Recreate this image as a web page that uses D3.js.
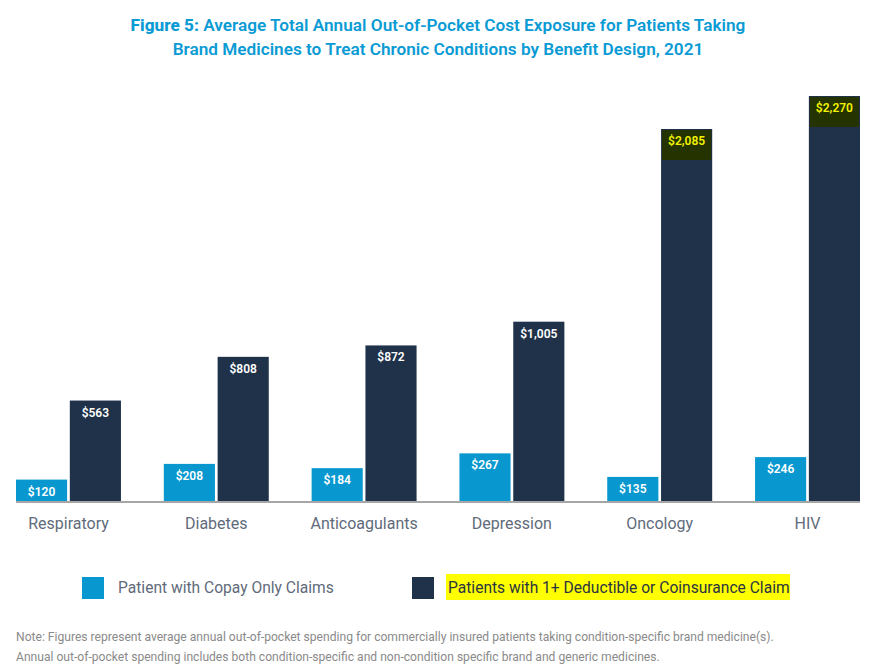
<!DOCTYPE html>
<html>
<head>
<meta charset="utf-8">
<script src="https://cdn.jsdelivr.net/npm/d3@7"></script>
<style>
  body { margin: 0; background: #fff; font-family: "Roboto", "Open Sans", sans-serif; }
</style>
</head>
<body>
<div id="chart"></div>
<script>
// chart data
var categories = ["Respiratory", "Diabetes", "Anticoagulants", "Depression", "Oncology", "HIV"];
var copayOnly = [120, 208, 184, 267, 135, 246];
var deductible = [563, 808, 872, 1005, 2085, 2270];
var seriesNames = ["Patient with Copay Only Claims", "Patients with 1+ Deductible or Coinsurance Claim"];
var highlighted = ["Oncology", "HIV"];

var width = 886, height = 668;
var lightBlue = "#0898cf", navy = "#1f3249";

var svg = d3.select("#chart")
  .append("svg")
  .attr("width", width)
  .attr("height", height);

// title
var title = svg.append("text")
  .attr("x", 438)
  .attr("text-anchor", "middle")
  .style("fill", "#0a9bd5")
  .style("font-size", "17.2px")
  .style("font-weight", "600");
var t1 = title.append("tspan").attr("x", 438).attr("y", 31);
t1.append("tspan").style("font-weight", "800").text("Figure 5: ");
t1.append("tspan").text("Average Total Annual Out-of-Pocket Cost Exposure for Patients Taking");
title.append("tspan").attr("x", 438).attr("y", 55)
  .text("Brand Medicines to Treat Chronic Conditions by Benefit Design, 2021");

// scales
var baseY = 501;
var x0 = d3.scaleBand()
  .domain(categories)
  .range([16, 860])
  .paddingInner(0.29)
  .paddingOuter(0);

var x1 = d3.scaleBand()
  .domain([0, 1])
  .range([0, x0.bandwidth()])
  .paddingInner(0.05);

var y = d3.scaleLinear()
  .domain([0, 2270])
  .range([baseY, 96]);

var rows = categories.map(function (c, i) {
  return { cat: c, values: [copayOnly[i], deductible[i]] };
});

var groups = svg.selectAll(".group")
  .data(rows)
  .enter()
  .append("g")
  .attr("class", "group")
  .attr("transform", (d) => "translate(" + x0(d.cat) + ",0)");

var bars = groups.selectAll(".bar")
  .data((d) => d.values.map((v, k) => ({ cat: d.cat, k: k, v: v })))
  .enter();

bars.append("rect")
  .attr("class", "bar")
  .attr("x", (d) => x1(d.k))
  .attr("y", (d) => y(d.v))
  .attr("width", x1.bandwidth())
  .attr("height", (d) => baseY - y(d.v))
  .style("fill", (d) => d.k === 0 ? lightBlue : navy);

// highlight boxes behind the biggest values
bars.filter((d) => d.k === 1 && highlighted.indexOf(d.cat) >= 0)
  .append("rect")
  .attr("x", (d) => x1(d.k) + 1)
  .attr("y", (d) => y(d.v) + 1)
  .attr("width", x1.bandwidth() - 2)
  .attr("height", 30)
  .style("fill", "#243300");

bars.append("text")
  .attr("x", (d) => x1(d.k) + x1.bandwidth() / 2)
  .attr("y", (d) => y(d.v) + 16)
  .attr("text-anchor", "middle")
  .style("font-size", "12px")
  .style("font-weight", "600")
  .style("fill", (d) => (d.k === 1 && highlighted.indexOf(d.cat) >= 0) ? "#f2f200" : "#fff")
  .text((d) => d3.format("$,")(d.v));

// baseline
svg.append("line")
  .attr("x1", 16).attr("x2", 860)
  .attr("y1", baseY + 1).attr("y2", baseY + 1)
  .style("stroke", "#a6a6a6")
  .style("stroke-width", 2);

// category labels
var xAxis = d3.axisBottom(x0).tickSize(0).tickPadding(0);
var axisG = svg.append("g")
  .attr("transform", "translate(0," + (baseY + 28) + ")")
  .call(xAxis);
axisG.select(".domain").remove();
axisG.selectAll("text")
  .attr("dy", 0)
  .style("font-family", "Roboto, sans-serif")
  .style("font-size", "16px")
  .style("fill", "#5f6b7a");

// legend
var legendX = [82, 412];
var legend = svg.selectAll(".legend")
  .data(seriesNames)
  .enter()
  .append("g")
  .attr("class", "legend")
  .attr("transform", (d, i) => "translate(" + legendX[i] + ",577)");

legend.filter((d, i) => i === 1)
  .append("rect")
  .attr("x", 34).attr("y", -3)
  .attr("width", 344).attr("height", 26)
  .style("fill", "#ffff00");

legend.append("rect")
  .attr("width", 22).attr("height", 22)
  .style("fill", (d, i) => i === 0 ? lightBlue : navy);

legend.append("text")
  .attr("x", 36)
  .attr("y", 16)
  .style("font-size", "15.6px")
  .style("fill", (d, i) => i === 0 ? "#5f6b7a" : "#2b3440")
  .text((d) => d);

// note
var notes = [
  "Note: Figures represent average annual out-of-pocket spending for commercially insured patients taking condition-specific brand medicine(s).",
  "Annual out-of-pocket spending includes both condition-specific and non-condition specific brand and generic medicines."
];
svg.selectAll(".note")
  .data(notes)
  .enter()
  .append("text")
  .attr("class", "note")
  .attr("x", 16)
  .attr("y", (d, i) => 641 + i * 20)
  .style("font-size", "12.1px")
  .style("fill", "#8a8a8a")
  .text((d) => d);
</script>
</body>
</html>
